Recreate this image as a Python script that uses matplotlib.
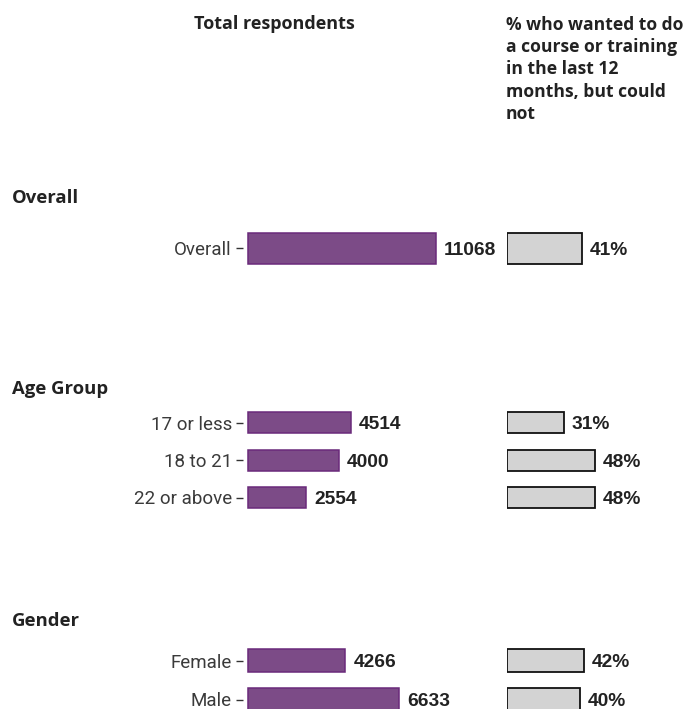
import matplotlib
matplotlib.use('Agg')
import matplotlib.pyplot as plt

# ---------------- data ----------------
section_names = ['Overall', 'Age Group', 'Gender']
overall_cats = ['Overall']
overall_n = [11068]
overall_pct = [41]
age_cats = ['17 or less', '18 to 21', '22 or above']
age_n = [4514, 4000, 2554]
age_pct = [31, 48, 48]
gender_cats = ['Female', 'Male']
gender_n = [4266, 6633]
gender_pct = [42, 40]
left_title = 'Total respondents'
right_title = '% who wanted to do\na course or training\nin the last 12\nmonths, but could\nnot'

# ---------------- style / layout ----------------
W, H, DPI = 689, 709, 100
PURPLE = '#7C4B87'
PURPLE_EDGE = '#6A2A7A'
GREY = '#D3D3D3'
TXT = '#222222'
LAB = '#3A3A3A'
HEAD_FONT = ['Open Sans', 'DejaVu Sans']
LAB_FONT = ['Roboto', 'DejaVu Sans']
NUM_FONT = ['Liberation Sans', 'DejaVu Sans']

fig = plt.figure(figsize=(W / DPI, H / DPI), dpi=DPI)


def px_axes(x0, y_top, w, h):
    return fig.add_axes([x0 / W, 1 - (y_top + h) / H, w / W, h / H])


def fy(y):
    return 1 - y / H


def fx(x):
    return x / W


# section layout: header y, first row center, row spacing, bar px height, px per unit (left)
layout = [
    dict(head=196, first=248.5, step=52.0, bar=31, scale=0.0170),
    dict(head=387, first=422.5, step=37.5, bar=21, scale=0.0228),
    dict(head=619, first=660.5, step=39.0, bar=23, scale=0.0228),
]
data = [
    (overall_cats, overall_n, overall_pct),
    (age_cats, age_n, age_pct),
    (gender_cats, gender_n, gender_pct),
]

LEFT_AX_X = 243
LEFT_ZERO_PAD = 5
LEFT_AX_W = 257
RIGHT_ZERO = 507
RIGHT_W = 182
RIGHT_SCALE = 1.83
OFF = 8 * 72 / DPI  # 8 px in points

for name, lay, (cats, ns, pcts) in zip(section_names, layout, data):
    n = len(cats)
    top = lay['first'] - lay['step'] / 2
    h = lay['step'] * n
    bh = lay['bar'] / lay['step']

    # header
    fig.text(fx(12), fy(lay['head']), name, ha='left', va='center_baseline',
             fontsize=13.3, fontweight='bold', family=HEAD_FONT, color=TXT)

    # left panel
    axl = px_axes(LEFT_AX_X, top, LEFT_AX_W, h)
    s = lay['scale']
    axl.set_xlim(-LEFT_ZERO_PAD / s, (LEFT_AX_W - LEFT_ZERO_PAD) / s)
    axl.set_ylim(n - 0.5, -0.5)
    ypos = list(range(n))
    axl.barh(ypos, ns, height=bh, color=PURPLE, edgecolor=PURPLE_EDGE, linewidth=1.1)
    for y, v in zip(ypos, ns):
        axl.annotate(f'{v}', (v, y), xytext=(OFF, 0), textcoords='offset points',
                     ha='left', va='center_baseline', fontsize=13.8, fontweight='bold',
                     family=NUM_FONT, color=TXT, annotation_clip=False)
    axl.set_yticks(ypos)
    axl.set_yticklabels(cats, family=LAB_FONT, fontsize=13.5, color=LAB,
                        va='center_baseline')
    axl.tick_params(axis='y', length=5, width=1.0, color='#333333', pad=3)
    axl.set_xticks([])
    for sp in axl.spines.values():
        sp.set_visible(False)
    axl.patch.set_alpha(0)

    # right panel
    axr = px_axes(RIGHT_ZERO, top, RIGHT_W, h)
    axr.set_xlim(0, RIGHT_W / RIGHT_SCALE)
    axr.set_ylim(n - 0.5, -0.5)
    axr.barh(ypos, pcts, height=bh, color=GREY, edgecolor='#111111', linewidth=1.3)
    for y, p in zip(ypos, pcts):
        axr.annotate(f'{p}%', (p, y), xytext=(OFF, 0), textcoords='offset points',
                     ha='left', va='center_baseline', fontsize=13.8, fontweight='bold',
                     family=NUM_FONT, color=TXT, annotation_clip=False)
    axr.set_xticks([])
    axr.set_yticks([])
    for sp in axr.spines.values():
        sp.set_visible(False)
    axr.patch.set_alpha(0)

# titles
fig.text(fx(274.5), fy(15), left_title, ha='center', va='top', fontsize=13,
         fontweight='bold', family=HEAD_FONT, color=TXT)
fig.text(fx(506), fy(16), right_title, ha='left', va='top', fontsize=12.6,
         fontweight='bold', family=HEAD_FONT, color=TXT, linespacing=1.3)

fig.savefig('out.png', dpi=DPI)
